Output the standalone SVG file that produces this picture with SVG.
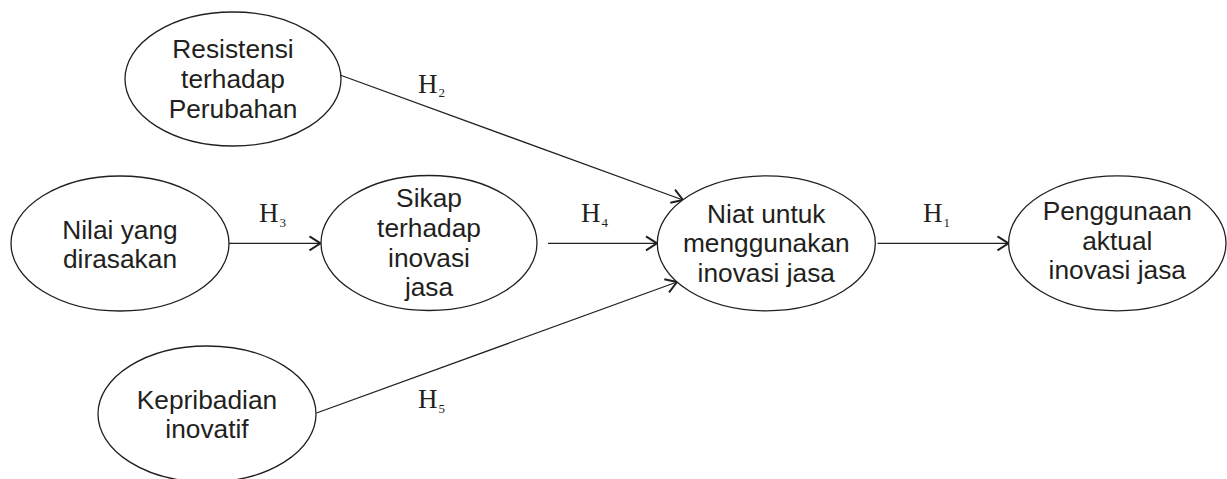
<svg xmlns="http://www.w3.org/2000/svg" width="1227" height="479" viewBox="0 0 1227 479">
<style>
.node ellipse{fill:#fff;stroke:#231f20;stroke-width:1.3}
.node text{font-family:"Liberation Sans",Arial,sans-serif;font-size:26.3px;fill:#231f20;text-anchor:middle}
.edge line{stroke:#231f20;stroke-width:1.3;fill:none}
.lbl{font-family:"Liberation Serif","Times New Roman",serif;font-size:27px;fill:#231f20}
.sub{font-size:13px}
</style>
<defs>
<marker id="arr" markerUnits="userSpaceOnUse" markerWidth="30" markerHeight="30" refX="0" refY="0" viewBox="-15 -15 30 30" orient="auto">
<path d="M-11,-7 L0,0 L-11,7" fill="none" stroke="#231f20" stroke-width="2"/>
</marker>
</defs>
<rect width="1227" height="479" fill="#fff"/>
<g id="connectors" class="edge">
<line x1="340" y1="75" x2="683" y2="200" marker-end="url(#arr)"/>
<line x1="229" y1="243.3" x2="320.5" y2="243.3" marker-end="url(#arr)"/>
<line x1="548" y1="243.3" x2="657" y2="243.3" marker-end="url(#arr)"/>
<line x1="316.5" y1="413" x2="677" y2="282" marker-end="url(#arr)"/>
<line x1="877.5" y1="243.3" x2="1008.5" y2="243.3" marker-end="url(#arr)"/>
</g>
<g id="labels">
<text class="lbl" x="418" y="93">H<tspan class="sub" dx="1" dy="4">2</tspan></text>
<text class="lbl" x="259" y="222">H<tspan class="sub" dx="1" dy="5">3</tspan></text>
<text class="lbl" x="581" y="222">H<tspan class="sub" dx="1" dy="5">4</tspan></text>
<text class="lbl" x="923" y="222">H<tspan class="sub" dx="1" dy="5">1</tspan></text>
<text class="lbl" x="418" y="408">H<tspan class="sub" dx="1" dy="5">5</tspan></text>
</g>
<g id="n-resistensi" class="node">
<ellipse cx="233" cy="79" rx="108" ry="67"/>
<text x="233" y="58">Resistensi</text>
<text x="233" y="88">terhadap</text>
<text x="233" y="118">Perubahan</text>
</g>
<g id="n-nilai" class="node">
<ellipse cx="120" cy="243.5" rx="109" ry="67.5"/>
<text x="120" y="238.5">Nilai yang</text>
<text x="120" y="267.5">dirasakan</text>
</g>
<g id="n-sikap" class="node">
<ellipse cx="429" cy="243" rx="108" ry="67.5"/>
<text x="429" y="207">Sikap</text>
<text x="429" y="237">terhadap</text>
<text x="429" y="267">inovasi</text>
<text x="429" y="296">jasa</text>
</g>
<g id="n-niat" class="node">
<ellipse cx="766.3" cy="243.3" rx="109" ry="67.5"/>
<text x="766.3" y="222.5">Niat untuk</text>
<text x="766.3" y="252">menggunakan</text>
<text x="766.3" y="281.5">inovasi jasa</text>
</g>
<g id="n-penggunaan" class="node">
<ellipse cx="1117.3" cy="243.3" rx="108.7" ry="67.5"/>
<text x="1117.3" y="220">Penggunaan</text>
<text x="1117.3" y="249.5">aktual</text>
<text x="1117.3" y="279">inovasi jasa</text>
</g>
<g id="n-kepribadian" class="node">
<ellipse cx="207" cy="414" rx="109" ry="68"/>
<text x="207" y="409">Kepribadian</text>
<text x="207" y="438">inovatif</text>
</g>
</svg>
